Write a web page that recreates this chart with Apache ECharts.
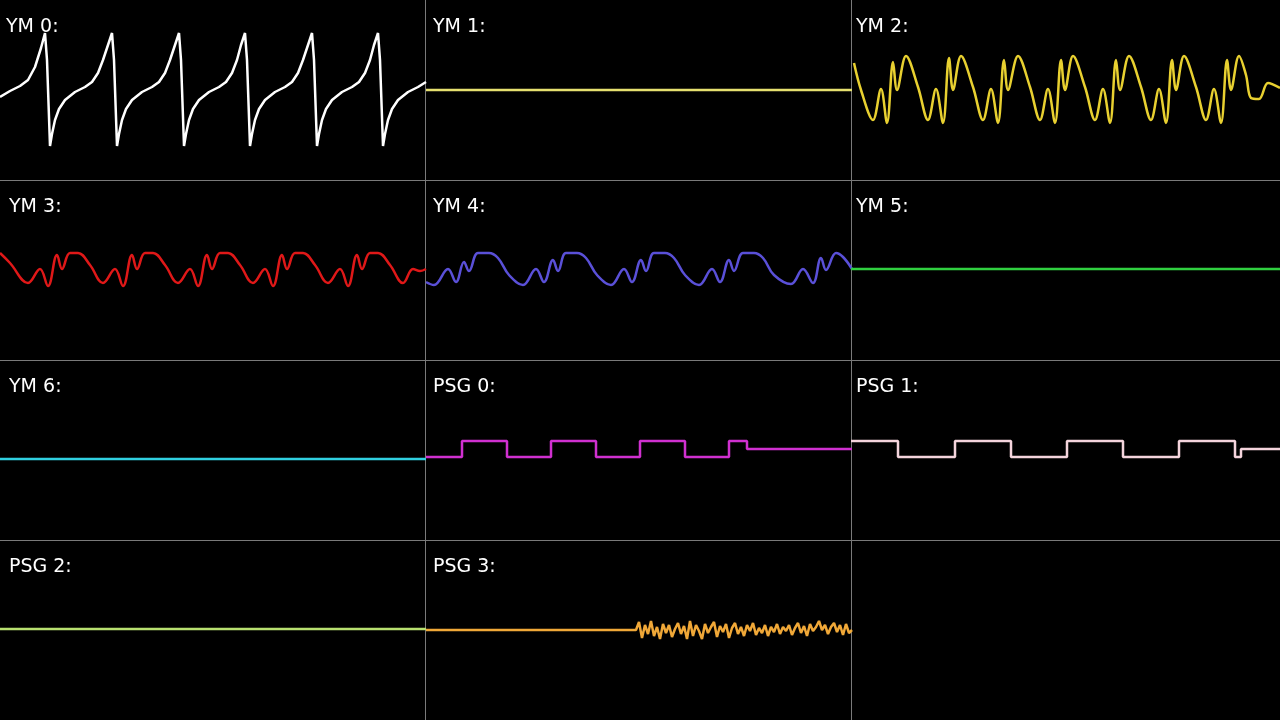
<!DOCTYPE html>
<html>
<head>
<meta charset="utf-8">
<script src="https://cdn.jsdelivr.net/npm/echarts@6/dist/echarts.min.js"></script>
<style>html,body{margin:0;background:#000}#container{width:1280px;height:720px}</style>
</head>
<body>
<div id="container"></div>
<script>
var dom = document.getElementById('container');
var myChart = echarts.init(dom, null, { renderer: 'canvas' });

// panel names, in reading order
let names = ['YM 0:', 'YM 1:', 'YM 2:', 'YM 3:', 'YM 4:', 'YM 5:', 'YM 6:', 'PSG 0:', 'PSG 1:', 'PSG 2:', 'PSG 3:'];
let colors = ['#ffffff', '#e6e070', '#e8d030', '#e01818', '#5a50d8', '#30d040', '#30d0e0', '#d030d0', '#f4d4dc', '#b8e070', '#f0a838'];
let smoothing = [0, 0, 0.35, 0.4, 0.4, 0, 0, 0, 0, 0, 0];

// waveforms: [x, y] inside a panel (x 0..426, y 0..180 from the panel top)
let ym0 = [[0,97],[10,91],[20,86],[28,80],[35,67],[41,48],[45,33],[47,60],[50,146],[52,134],[55,120],[59,109],[65,100],[75,92],[85,87],[92,82],[98,73],[103,60],[108,45],[112,33],[114,60],[117,146],[119,134],[122,120],[126,109],[132,100],[142,92],[152,87],[159,82],[165,73],[170,60],[175,45],[179,33],[181,60],[184,146],[186,134],[189,120],[193,109],[199,100],[209,92],[219,87],[226,82],[232,73],[237,60],[241,45],[245,33],[247,60],[250,146],[252,134],[255,120],[259,109],[265,100],[275,92],[285,87],[292,82],[298,73],[303,60],[308,45],[312,33],[314,60],[317,146],[319,134],[322,120],[326,109],[332,100],[342,92],[352,87],[359,82],[365,73],[370,60],[374,45],[378,33],[380,60],[383,146],[385,134],[388,120],[392,109],[398,100],[408,92],[418,87],[426,82]];
let ym1 = [[0,90],[426,90]];
let ym2 = [[3,63],[10,90],[22,120],[30,89],[36,123],[42,62],[46,90],[55,56],[67,87],[77,120],[85,89],[92,123],[98,58],[102,90],[110,56],[122,87],[132,120],[140,89],[147,123],[153,60],[157,90],[167,56],[179,87],[189,120],[197,89],[204,123],[210,60],[214,90],[222,56],[234,87],[244,120],[252,89],[259,123],[265,60],[269,90],[278,56],[290,87],[300,120],[308,89],[315,123],[321,60],[325,90],[333,56],[345,87],[355,120],[363,89],[370,123],[376,60],[380,90],[388,56],[395,75],[400,98],[408,99],[417,83],[429,88]];
let ym3 = [[0,73],[10,83],[28,103],[40,89],[48,106],[57,75],[62,89],[70,73],[78,73],[90,85],[103,103],[115,89],[123,106],[132,75],[137,89],[145,73],[153,73],[165,85],[178,103],[190,89],[198,106],[207,75],[212,89],[220,73],[228,73],[240,85],[253,103],[265,89],[273,106],[282,75],[287,89],[295,73],[303,73],[315,85],[328,103],[340,89],[348,106],[357,75],[362,89],[370,73],[378,73],[390,85],[403,103],[413,89],[420,91],[426,89]];
let ym4 = [[0,102],[8,105],[22,89],[30,102],[38,82],[43,91],[52,73],[63,73],[72,78],[83,95],[97,105],[110,89],[118,102],[127,80],[132,91],[140,73],[151,73],[160,78],[171,95],[185,105],[198,89],[206,102],[215,80],[220,91],[228,73],[239,73],[248,78],[259,95],[273,105],[286,89],[294,102],[303,80],[308,91],[317,73],[328,73],[337,78],[348,95],[365,104],[377,89],[387,103],[395,78],[400,90],[410,73],[417,77],[426,89]];
let ym5 = [[0,89],[429,89]];
let ym6 = [[0,99],[426,99]];
let psg0 = [[0,97],[36,97],[36,81],[81,81],[81,97],[125,97],[125,81],[170,81],[170,97],[214,97],[214,81],[259,81],[259,97],[303,97],[303,81],[321,81],[321,89],[426,89]];
let psg1 = [[0,81],[47,81],[47,97],[104,97],[104,81],[160,81],[160,97],[216,97],[216,81],[272,81],[272,97],[328,97],[328,81],[384,81],[384,97],[390,97],[390,89],[429,89]];
let psg2 = [[0,89],[426,89]];
let psg3 = [[0,90],[210,90],[213,82],[216,98],[219,85],[222,94],[225,81],[228,96],[231,87],[234,99],[237,84],[240,93],[243,85],[246,97],[249,89],[252,83],[255,94],[258,86],[261,99],[264,81],[267,96],[270,85],[273,91],[276,99],[279,84],[282,93],[285,87],[288,82],[291,97],[294,86],[297,92],[300,84],[303,98],[306,88],[309,83],[312,94],[315,87],[318,96],[321,85],[324,91],[327,83],[330,95],[333,88],[336,93],[339,85],[342,96],[345,87],[348,92],[351,84],[354,94],[357,87],[360,91],[363,85],[366,95],[369,88],[372,83],[375,93],[378,86],[381,96],[384,84],[387,91],[390,87],[393,81],[396,90],[399,85],[402,94],[405,87],[408,83],[411,92],[414,85],[417,95],[420,84],[423,93],[426,90]];
let waves = [ym0, ym1, ym2, ym3, ym4, ym5, ym6, psg0, psg1, psg2, psg3];

let colLeft = [0, 426, 851];
let colWidth = [426, 425, 429];
let titleLeft = [9, 433, 856];

var grids = [], xAxes = [], yAxes = [], series = [], graphics = [];
names.forEach(function (name, i) {
    var c = i % 3, r = Math.floor(i / 3);
    grids.push({ left: colLeft[c], top: r * 180, width: colWidth[c], height: 180 });
    xAxes.push({ gridIndex: i, type: 'value', min: 0, max: colWidth[c], show: false });
    yAxes.push({ gridIndex: i, type: 'value', min: 0, max: 180, inverse: true, show: false });
    series.push({
        type: 'line', xAxisIndex: i, yAxisIndex: i, data: waves[i],
        symbol: 'none', animation: false, smooth: smoothing[i],
        lineStyle: { color: colors[i], width: 2.5 }
    });
    graphics.push({
        type: 'text', left: i === 0 ? 6 : titleLeft[c], top: r * 180 + 18,
        style: { text: name, fill: '#fff', font: '19px "DejaVu Sans"' }, z: 10
    });
});
[425.5, 851.5].forEach(function (x) {
    graphics.push({ type: 'line', shape: { x1: x, y1: 0, x2: x, y2: 720 }, style: { stroke: '#7a7a7a', lineWidth: 1 } });
});
[180.5, 360.5, 540.5].forEach(function (y) {
    graphics.push({ type: 'line', shape: { x1: 0, y1: y, x2: 1280, y2: y }, style: { stroke: '#7a7a7a', lineWidth: 1 } });
});

var option = {
    backgroundColor: '#000',
    grid: grids, xAxis: xAxes, yAxis: yAxes, series: series,
    graphic: graphics
};
myChart.setOption(option);
window.addEventListener('resize', myChart.resize);
</script>
</body>
</html>
